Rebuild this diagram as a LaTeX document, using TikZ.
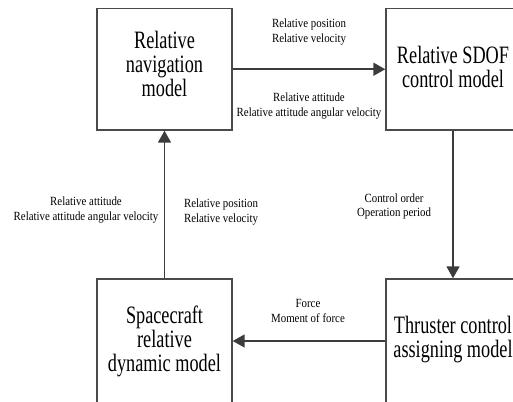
\documentclass[tikz,border=0pt]{standalone}
\usepackage{fontspec}
\setmainfont{Liberation Serif}
\newfontfamily\bigfont[FakeStretch=0.73]{Liberation Serif}
\newfontfamily\smallfont[FakeStretch=0.87]{Liberation Serif}
\usetikzlibrary{arrows.meta}
\definecolor{lineGray}{HTML}{3C3C3C}
\definecolor{boxGray}{HTML}{4A4A4A}

\begin{document}
\begin{tikzpicture}[x=1pt,y=-1pt,
  model/.style={draw=boxGray,line width=1.4pt,minimum width=135pt,minimum height=121.5pt,align=center,inner sep=0pt,font=\bigfont\fontsize{25}{24}\selectfont},
  sig/.style={align=center,anchor=base,inner sep=0pt,font=\smallfont\fontsize{12.5}{14.5}\selectfont},
  flow/.style={draw=lineGray,line width=1.7pt,-{Triangle[length=12pt,width=13pt]}}]
  \useasboundingbox (0,0) rectangle (513,401);
  \clip (0,0) rectangle (513,401);
  \node[model,text depth=10pt] (nav) at (164.5,69.25) {Relative\\navigation\\model};
  \node[model,minimum width=134pt,text depth=4pt] (sdof) at (453,69.25) {Relative SDOF\\control model};
  \node[model,minimum height=124pt] (craft) at (164.5,341) {Spacecraft\\relative\\dynamic model};
  \node[model,minimum width=134pt,minimum height=124pt,text depth=9pt] (thr) at (453,341) {Thruster control\\assigning model};
  % signal labels
  \node[sig] (pv1) at (309,42.3) {Relative position\\Relative velocity};
  \node[sig] (att1) at (309,116) {Relative attitude\\Relative attitude angular velocity};
  \node[sig] (att2) at (86,220) {Relative attitude\\Relative attitude angular velocity};
  \node[sig] (pv2) at (221,222) {Relative position\\Relative velocity};
  \node[sig] (cmd) at (394,216.7) {Control order\\Operation period};
  \node[sig] (fm) at (308,322) {Force\\Moment of force};
  \draw[flow] (nav) -- (sdof);
  \draw[flow] (sdof) -- (thr);
  \draw[flow] (thr) -- (craft);
  \draw[flow] (craft) -- (nav);
\end{tikzpicture}
\end{document}
